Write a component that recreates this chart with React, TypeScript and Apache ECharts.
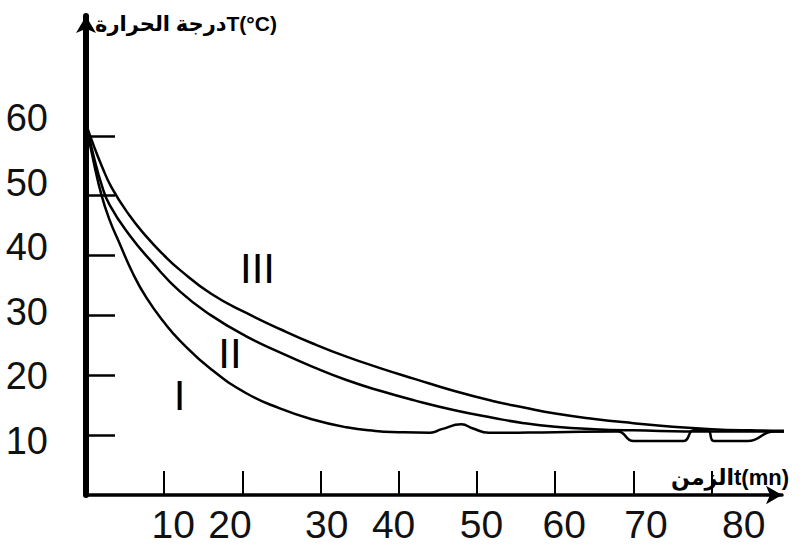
import React, { useEffect, useRef } from "react";
import * as echarts from "echarts";

const xTickValues = [10, 20, 30, 40, 50, 60, 70, 80];
const yTickValues = [10, 20, 30, 40, 50, 60];

const curveI: [number, number][] = [
  [0, 62], [1, 55.5], [2, 50], [3, 46], [4.2, 42.3], [6, 37], [7.7, 33], [10, 28.8],
  [12, 25.8], [16, 21], [20.5, 17], [24.7, 14.5], [29, 12.6], [33.3, 11.3], [37, 10.7],
  [40, 10.5], [44, 10.4], [45.5, 11], [48, 11.8], [49.5, 11.1], [51.5, 10.4], [60, 10.5],
  [68, 10.6], [70, 9], [76.4, 9], [77.7, 10.8], [79.5, 10.8], [80.3, 9], [84.6, 9],
  [88, 10.6], [91, 10.6],
];
const curveII: [number, number][] = [
  [0, 62], [1, 56.5], [2, 51.8], [3, 48.5], [5.5, 43.5], [8.5, 38.8], [12, 34], [16, 30],
  [20.5, 26.5], [25, 23.7], [29, 21.4], [33.3, 19.2], [37.6, 17.4], [42, 15.8], [47, 14.2],
  [52, 12.9], [56, 12], [60, 11.4], [65, 11], [70, 10.8], [80, 10.6], [91, 10.6],
];
const curveIII: [number, number][] = [
  [0, 62], [1, 58.3], [2, 55], [3.3, 51.3], [5.5, 46.8], [7.7, 43.2], [10, 40], [12, 37.6],
  [16, 33.6], [20.5, 30.4], [25, 27.6], [29, 25.3], [33.3, 23.1], [37.6, 21.2], [42, 19.4],
  [47, 17.4], [52, 15.7], [56, 14.6], [60, 13.6], [65, 12.7], [70, 12], [75, 11.4], [80, 11],
  [85, 10.8], [91, 10.7],
];
const curveNames = ["I", "II", "III"];
const yAxisTitle = "درجة الحرارةT(°C)";
const xAxisTitle = "الزمنt(mn)";

const FONT = '"Liberation Sans", Arial, "DejaVu Sans", sans-serif';

// horizontal nudges of the bottom labels (px), as typeset in the reference
const xLabelShift: Record<number, number> = {
  10: 15, 20: -10, 30: 5, 40: -10, 50: -4, 60: -3, 70: -3, 80: 13,
};

export default function App() {
  const ref = useRef<HTMLDivElement>(null);
  useEffect(() => {
    const chart = echarts.init(ref.current!, null, { renderer: "svg" });
    const curves = [curveI, curveII, curveIII];
    const namePos = [
      [179.5, 395],
      [230, 353.5],
      [257.5, 268],
    ];
    const rich: Record<string, any> = {};
    xTickValues.forEach((v) => {
      const s = xLabelShift[v] || 0;
      rich["s" + v] = {
        fontSize: 39,
        fontFamily: FONT,
        color: "#111",
        lineHeight: 33,
        padding: s >= 0 ? [0, 0, 0, 2 * s] : [0, -2 * s, 0, 0],
      };
    });
    chart.setOption({
      animation: false,
      backgroundColor: "#fff",
      grid: [
        { left: 86, top: 16, width: 696, bottom: 51 },
        { left: 76.4, width: 695.3, top: 53.4, bottom: 40.4 },
      ],
      xAxis: [
        {
          gridIndex: 0,
          type: "value",
          min: 0,
          max: 89,
          axisLine: {
            show: true,
            onZero: false,
            symbol: ["none", "arrow"],
            symbolSize: [14, 16],
            lineStyle: { color: "#000", width: 3.5 },
          },
          axisTick: {
            show: true,
            inside: true,
            length: 24,
            customValues: xTickValues,
            lineStyle: { color: "#000", width: 2 },
          },
          axisLabel: { show: false },
          splitLine: { show: false },
        },
        {
          gridIndex: 1,
          type: "value",
          min: 0,
          max: 85,
          axisLine: { show: false, onZero: false },
          axisTick: { show: false },
          splitLine: { show: false },
          axisLabel: {
            customValues: xTickValues,
            fontSize: 39,
            fontFamily: FONT,
            color: "#111",
            lineHeight: 33,
            margin: 2,
            formatter: (v: number) => `{s${v}|${v}}`,
            rich,
          },
        },
      ],
      yAxis: [
        {
          gridIndex: 0,
          type: "value",
          min: 0,
          max: 80,
          axisLine: {
            show: true,
            onZero: false,
            symbol: ["none", "arrow"],
            symbolSize: [15, 17],
            lineStyle: { color: "#000", width: 6 },
          },
          axisTick: {
            show: true,
            inside: true,
            length: 29,
            customValues: yTickValues,
            lineStyle: { color: "#000", width: 2.5 },
          },
          axisLabel: { show: false },
          splitLine: { show: false },
        },
        {
          gridIndex: 1,
          type: "value",
          min: 0,
          max: 70,
          offset: 26.4,
          axisLine: { show: false, onZero: false },
          axisTick: { show: false },
          splitLine: { show: false },
          axisLabel: {
            customValues: yTickValues,
            fontSize: 38,
            fontFamily: FONT,
            color: "#111",
            margin: 2,
          },
        },
      ],
      series: curves.map((d, i) => ({
        name: curveNames[i],
        type: "line",
        xAxisIndex: 0,
        yAxisIndex: 0,
        data: d,
        symbol: "none",
        showSymbol: false,
        smooth: 0.5,
        clip: false,
        lineStyle: { color: "#000", width: 2.5 },
      })),
      graphic: [
        {
          type: "text",
          x: 95,
          y: 23,
          style: {
            text: yAxisTitle,
            font: `bold 21px ${FONT}`,
            fill: "#000",
            align: "left",
            verticalAlign: "middle",
          },
        },
        {
          type: "text",
          x: 789,
          y: 477,
          style: {
            text: xAxisTitle,
            font: `bold 22px ${FONT}`,
            fill: "#000",
            align: "right",
            verticalAlign: "middle",
          },
        },
        ...curveNames.map((n, i) => ({
          type: "text",
          x: namePos[i][0],
          y: namePos[i][1],
          style: {
            text: n,
            font: `42px ${FONT}`,
            fill: "#000",
            align: "center",
            verticalAlign: "middle",
          },
        })),
      ],
    });
    return () => chart.dispose();
  }, []);
  return (
    <div
      ref={ref}
      style={{ width: 800, height: 546, position: "absolute", left: 0, top: 0 }}
    />
  );
}
